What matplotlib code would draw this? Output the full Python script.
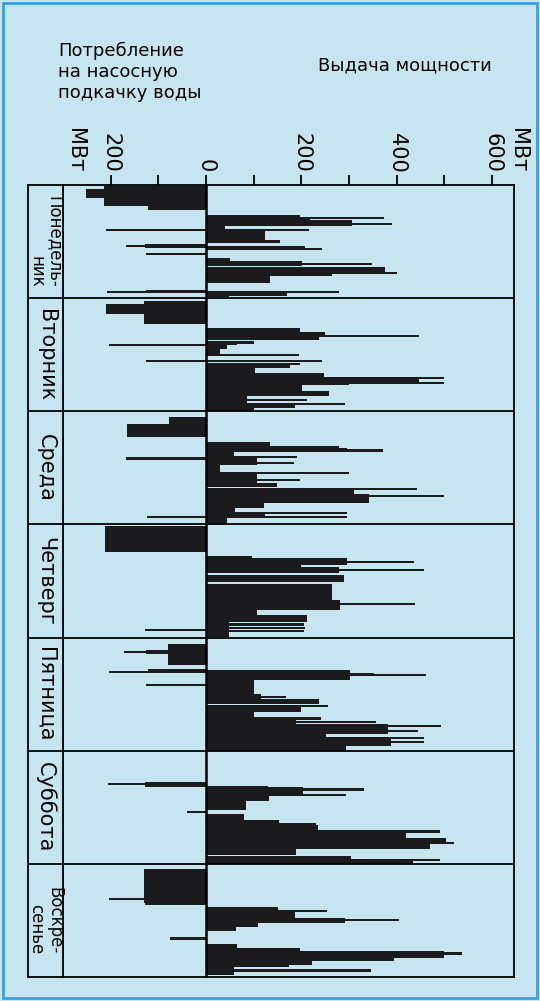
import matplotlib.pyplot as plt
from matplotlib.patches import Rectangle

# days of the week (labels as printed, rotated in the left column)
days = ['Понедель-\nник', 'Вторник', 'Среда', 'Четверг', 'Пятница', 'Суббота', 'Воскре-\nсенье']

# bars per day: (start hour, duration in hours, MW); negative = pumping load
mon = [(0.3, 0.55, -215), (0.85, 1.9, -251), (2.75, 1.75, -215), (4.5, 0.75, -122),
       (9.4, 0.45, -210), (12.5, 0.9, -127), (12.7, 0.45, -168), (14.4, 0.45, -126),
       (22.2, 0.45, -125), (22.5, 0.45, -208),
       (6.3, 0.7, 198), (6.7, 0.45, 373), (7.0, 1.0, 219), (7.4, 1.4, 306), (8.0, 0.45, 390),
       (8.8, 0.7, 40), (9.4, 0.45, 215), (9.6, 2.0, 124), (11.6, 0.6, 156), (13.0, 0.5, 208),
       (13.3, 0.45, 243), (15.5, 0.7, 51), (16.2, 1.0, 201), (16.6, 0.45, 348), (17.3, 1.1, 376),
       (18.5, 0.45, 401), (18.4, 1.0, 264), (19.4, 1.3, 135), (22.5, 0.45, 278), (22.6, 1.1, 48),
       (23.0, 0.45, 170)]
tue = [(0.5, 4.9, -131), (1.2, 2.1, -210), (9.7, 0.45, -204), (13.1, 0.45, -125),
       (6.3, 0.9, 198), (7.1, 1.2, 250), (7.8, 0.45, 446), (8.3, 0.5, 236), (9.0, 0.7, 100),
       (9.0, 1.0, 65), (10.0, 0.7, 44), (10.7, 1.5, 30), (11.9, 0.45, 194), (13.2, 0.45, 243),
       (13.7, 0.45, 198), (14.0, 0.8, 177), (14.8, 1.0, 103), (15.8, 0.9, 247), (16.7, 1.8, 299),
       (16.8, 0.45, 499), (17.0, 0.7, 446), (17.8, 0.45, 499), (18.5, 1.3, 201), (19.8, 0.9, 257),
       (20.7, 1.5, 86), (21.4, 0.45, 212), (22.2, 0.45, 292), (22.5, 0.7, 187), (23.2, 0.8, 100)]
wed = [(1.3, 4.2, -78), (2.7, 2.8, -166), (9.8, 0.45, -168), (22.2, 0.45, -124),
       (6.6, 0.9, 135), (7.3, 1.2, 278), (7.8, 0.45, 296), (8.1, 0.45, 371), (8.5, 1.6, 58),
       (9.5, 0.45, 191), (10.0, 1.3, 107), (10.7, 0.45, 184), (11.3, 1.6, 30), (12.9, 0.45, 299),
       (13.1, 1.4, 107), (14.4, 0.45, 198), (14.5, 1.5, 107), (15.3, 0.8, 149), (16.2, 0.45, 443),
       (16.3, 1.3, 310), (17.8, 0.45, 499), (17.6, 1.9, 341), (19.5, 1.1, 121), (20.6, 1.5, 60),
       (21.3, 0.45, 296), (22.2, 0.45, 296), (21.6, 1.1, 124), (22.7, 1.2, 44)]
thu = [(0.4, 5.5, -211), (22.2, 0.45, -127),
       (6.6, 1.0, 97), (7.1, 1.6, 296), (7.7, 0.45, 436), (8.7, 0.5, 200), (9.4, 0.45, 457),
       (9.0, 1.4, 278), (10.8, 1.4, 289), (12.6, 0.45, 264), (12.9, 2.1, 264), (15.0, 1.1, 264),
       (16.6, 0.45, 439), (16.1, 2.1, 282), (18.2, 1.1, 107), (19.3, 1.4, 212), (21.0, 0.45, 205),
       (21.7, 0.45, 207), (22.4, 0.45, 205), (20.7, 3.2, 48)]
fri = [(1.3, 4.6, -80), (2.6, 0.8, -126), (2.8, 0.45, -173), (6.6, 0.6, -122), (7.0, 0.45, -204),
       (9.8, 0.45, -126),
       (6.8, 2.3, 301), (7.6, 0.45, 353), (7.8, 0.45, 462), (9.1, 2.8, 100), (11.9, 1.1, 115),
       (12.4, 0.45, 168), (13.0, 1.0, 238), (14.3, 0.45, 255), (14.6, 1.2, 199), (15.8, 1.1, 101),
       (16.9, 0.5, 241), (17.6, 0.45, 357), (17.4, 0.9, 189), (18.5, 0.45, 493), (18.3, 2.1, 381),
       (19.5, 0.45, 444), (20.4, 1.1, 252), (21.0, 0.45, 458), (21.9, 0.45, 458), (21.5, 1.4, 388),
       (22.9, 1.1, 294)]
sat = [(6.6, 1.2, -129), (6.8, 0.45, -206), (12.7, 0.5, -40),
       (7.4, 0.7, 129), (8.0, 0.45, 332), (7.8, 1.4, 203), (9.1, 0.45, 294), (9.2, 1.5, 133),
       (10.7, 1.9, 84), (13.4, 0.45, 80), (13.7, 1.1, 80), (14.8, 0.9, 154), (15.4, 0.45, 231),
       (15.7, 1.3, 234), (16.9, 0.45, 490), (17.0, 1.5, 420), (18.5, 1.1, 503), (19.3, 0.45, 521),
       (19.6, 1.2, 469), (20.8, 1.3, 189), (22.4, 1.6, 304), (23.0, 0.45, 490), (23.3, 0.7, 434)]
sun = [(1.0, 7.2, -131), (7.3, 0.45, -204), (8.2, 0.6, -127), (15.5, 0.7, -76),
       (9.2, 0.9, 152), (9.7, 0.45, 254), (10.1, 1.4, 187), (11.5, 1.1, 292), (11.6, 0.45, 404),
       (12.6, 0.8, 110), (13.4, 0.9, 62), (17.0, 0.9, 65), (17.9, 0.7, 198), (18.5, 1.4, 499),
       (18.8, 0.45, 537), (19.9, 0.8, 394), (20.7, 0.7, 222), (21.5, 0.45, 173), (21.4, 2.2, 58),
       (22.4, 0.45, 345)]
week = [mon, tue, wed, thu, fri, sat, sun]

tick_vals = [-200, -100, 0, 100, 200, 300, 400, 500, 600]
tick_labels = ['200', '', '0', '', '200', '', '400', '', '600']

BG = '#c6e5f0'
INK = '#1b1b1d'

fig = plt.figure(figsize=(5.4, 10.01), dpi=100)
fig.patch.set_facecolor(BG)
fig.patches.append(Rectangle((3 / 540, 3 / 1001), 534 / 540, 995 / 1001, transform=fig.transFigure,
                             fill=False, edgecolor='#3a9fe0', lw=2))

ax = fig.add_axes([63 / 540, 24 / 1001, 451 / 540, 792 / 1001])
lab = fig.add_axes([28 / 540, 24 / 1001, 35 / 540, 792 / 1001])

for i, bars in enumerate(week):
    starts = [i * 24 + b[0] for b in bars]
    ax.barh(starts, [b[2] for b in bars], height=[b[1] for b in bars], left=0,
            align='edge', color=INK, linewidth=0)

for a in (ax, lab):
    a.set_facecolor(BG)
    a.set_ylim(168, 0)
    for s in a.spines.values():
        s.set_linewidth(1.3)
        s.set_color('black')
    for d in range(1, 7):
        a.axhline(d * 24, color='black', lw=1.3)

ax.axvline(0, color='black', lw=1.8)
ax.set_xlim(-300, 646)
ax.set_yticks([])
ax.xaxis.tick_top()
ax.set_xticks(tick_vals)
ax.set_xticklabels(tick_labels)
ax.tick_params(axis='x', direction='out', length=7, width=1.3, labelsize=15,
               labelrotation=-90, pad=2, colors='black')
for xv in (-275, 655):
    ax.annotate('МВт', xy=(xv, 1), xycoords=('data', 'axes fraction'), xytext=(0, 9),
                textcoords='offset points', rotation=-90, ha='center', va='bottom',
                fontsize=15, annotation_clip=False)

lab.set_xlim(0, 1)
lab.set_xticks([])
lab.set_yticks([])
for i, name in enumerate(days):
    two = '\n' in name
    lab.text(0.5, i * 24 + 12, name, rotation=-90, ha='center', va='center',
             multialignment='right', fontsize=12 if two else 15, linespacing=1.0)

fig.text(58 / 540, 1 - 42 / 1001, 'Потребление\nна насосную\nподкачку воды',
         ha='left', va='top', fontsize=13)
fig.text(318 / 540, 1 - 56 / 1001, 'Выдача мощности', ha='left', va='top', fontsize=13)

plt.savefig('out.png', dpi=100, facecolor=BG)
